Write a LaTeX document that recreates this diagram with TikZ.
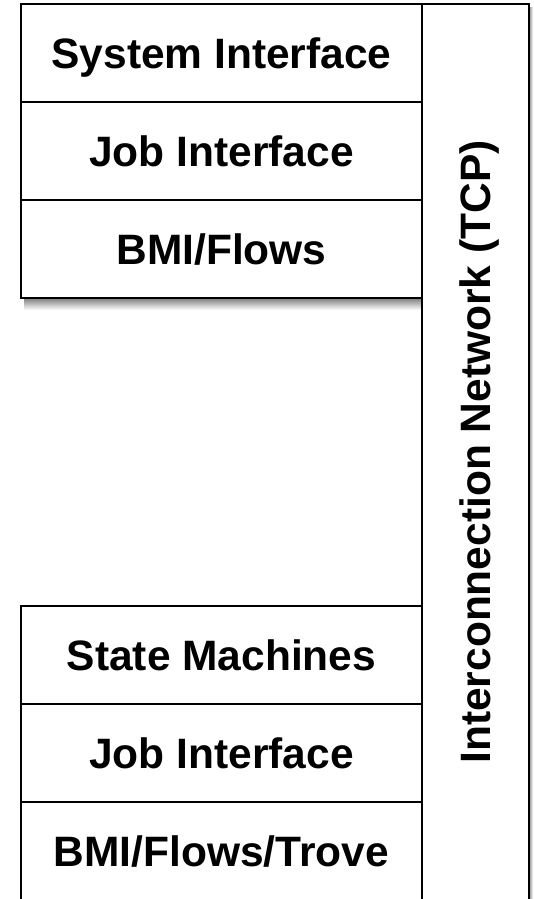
\documentclass[tikz,border=0pt]{standalone}
\usepackage{fontspec}
\setmainfont{Liberation Sans}
\usetikzlibrary{backgrounds}

\tikzset{
  cell/.style={draw=black, line width=2pt, fill=white, inner sep=0pt, outer sep=0pt,
    font=\fontsize{42.5}{50}\selectfont\bfseries, text height=30.4pt, text depth=0pt,
    align=center},
  row/.style={cell, minimum width=401pt, minimum height=98pt},
  dropshade/.style={top color=black!55, bottom color=white, draw=none},
  sideshade/.style={left color=black!45, right color=white, draw=none}
}

\begin{document}
\begin{tikzpicture}[x=1pt, y=1pt]
  \useasboundingbox (0,0) rectangle (533,-899);

  % upper layer stack
  \node[row] (sys)  at (221.5,-53)  {System Interface};
  \node[row] (job1) at (221.5,-151) {Job Interface};
  \node[row] (bmi1) at (221.5,-249) {BMI/Flows};
  \begin{scope}[on background layer]
    \shade[dropshade] ([xshift=3pt,yshift=1pt]bmi1.south west) rectangle ([yshift=-12pt]bmi1.south east);
  \end{scope}

  % lower layer stack
  \node[row] (sm)   at (221.5,-655) {State Machines};
  \node[row] (job2) at (221.5,-753) {Job Interface};
  \node[row] (bmi2) at (221.5,-851) {BMI/Flows/Trove};

  % network column on the right
  \node[cell, rotate=90, minimum width=896pt, minimum height=107pt]
        (net) at (475.5,-452) {Interconnection Network (TCP)};
  \begin{scope}[on background layer]
    \shade[sideshade] ([yshift=-4pt]net.south east) rectangle ([xshift=4pt]net.south west);
  \end{scope}
\end{tikzpicture}
\end{document}
